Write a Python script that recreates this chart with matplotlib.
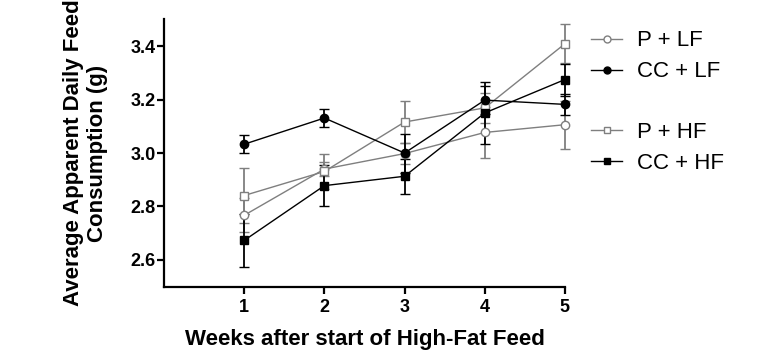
import matplotlib
matplotlib.use("Agg")
import matplotlib.pyplot as plt
from matplotlib.lines import Line2D

plt.rcParams["font.family"] = ["Liberation Sans", "DejaVu Sans"]

weeks = [1, 2, 3, 4, 5]

p_lf = [2.767, 2.940, 2.998, 3.077, 3.106]
p_lf_err = [0.063, 0.025, 0.040, 0.094, 0.090]

cc_lf = [3.033, 3.131, 3.000, 3.198, 3.182]
cc_lf_err = [0.033, 0.034, 0.073, 0.052, 0.038]

p_hf = [2.841, 2.931, 3.116, 3.169, 3.409]
p_hf_err = [0.103, 0.067, 0.078, 0.056, 0.072]

cc_hf = [2.673, 2.878, 2.913, 3.150, 3.275]
cc_hf_err = [0.098, 0.076, 0.065, 0.115, 0.060]

labels = ["P + LF", "CC + LF", "P + HF", "CC + HF"]
GREY = "#7f7f7f"

fig = plt.figure(figsize=(7.83, 3.53), dpi=100)
ax = fig.add_axes([0.2095, 0.188, 0.512, 0.757])

series = [
    (p_lf, p_lf_err, "o", GREY, "white"),
    (p_hf, p_hf_err, "s", GREY, "white"),
    (cc_lf, cc_lf_err, "o", "black", "black"),
    (cc_hf, cc_hf_err, "s", "black", "black"),
]
for vals, err, mk, col, fc in series:
    ax.errorbar(weeks, vals, yerr=err, fmt="-" + mk, color=col, mfc=fc, mec=col,
                ms=6, mew=1.0, lw=1.0, elinewidth=1.3, capsize=3.5, capthick=1.3,
                clip_on=False)

ax.set_xlim(0, 5)
ax.set_ylim(2.5, 3.5)
ax.set_xticks(weeks)
ax.set_yticks([2.6, 2.8, 3.0, 3.2, 3.4])
ax.set_yticklabels(["2.6", "2.8", "3.0", "3.2", "3.4"])
for s in ["top", "right"]:
    ax.spines[s].set_visible(False)
for s in ["left", "bottom"]:
    ax.spines[s].set_linewidth(1.6)
ax.tick_params(width=1.6, length=5, labelsize=13)
ax.tick_params(axis="y", pad=1)
ax.tick_params(axis="x", pad=4)
for lab in ax.get_xticklabels() + ax.get_yticklabels():
    lab.set_fontweight("bold")

ax.set_xlabel("Weeks after start of High-Fat Feed", fontsize=16, fontweight="bold", labelpad=9)
ax.set_ylabel("Average Apparent Daily Feed\nConsumption (g)", fontsize=16,
              fontweight="bold", linespacing=1.2)
ax.yaxis.set_label_coords(-0.14, 0.5)

def handle(mk, col, fc):
    return Line2D([], [], color=col, marker=mk, mfc=fc, mec=col, ms=5, lw=1.0)

h_lf = [handle("o", GREY, "white"), handle("o", "black", "black")]
h_hf = [handle("s", GREY, "white"), handle("s", "black", "black")]
kw = dict(frameon=False, fontsize=16, handlelength=1.4, handletextpad=0.68,
          labelspacing=0.45, loc="upper left", borderpad=0, borderaxespad=0)
fig.legend(h_lf, labels[:2], bbox_to_anchor=(0.755, 0.914), **kw)
fig.legend(h_hf, labels[2:], bbox_to_anchor=(0.755, 0.654), **kw)

fig.savefig("out.png", dpi=100)
